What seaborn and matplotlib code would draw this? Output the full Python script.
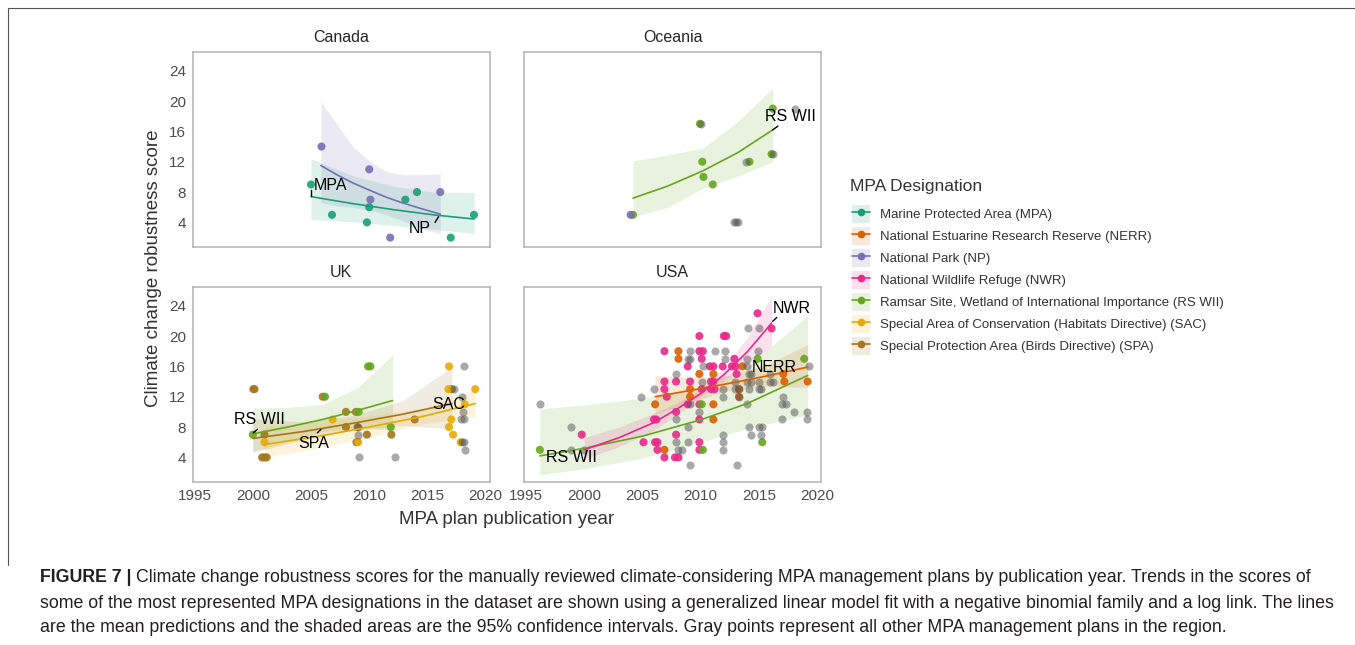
import numpy as np
import pandas as pd
import seaborn as sns
import matplotlib.pyplot as plt
from matplotlib.lines import Line2D
from matplotlib.patches import Patch

# ---- designations / colours ----
designations = ['MPA', 'NERR', 'NP', 'NWR', 'RS WII', 'SAC', 'SPA']
legend_labels = [
    'Marine Protected Area (MPA)',
    'National Estuarine Research Reserve (NERR)',
    'National Park (NP)',
    'National Wildlife Refuge (NWR)',
    'Ramsar Site, Wetland of International Importance (RS WII)',
    'Special Area of Conservation (Habitats Directive) (SAC)',
    'Special Protection Area (Birds Directive) (SPA)',
]
palette = {'MPA': '#1B9E77', 'NERR': '#D95F02', 'NP': '#7570B3', 'NWR': '#E7298A',
           'RS WII': '#66A61E', 'SAC': '#E6AB02', 'SPA': '#A6761D'}
GRAY = '#555555'

# ---- Canada ----
canada_year = [2005.0, 2006.8, 2009.8, 2010.0, 2013.1, 2014.1, 2017.0, 2019.0,
               2005.9, 2010.0, 2010.1, 2011.8, 2016.1]
canada_score = [9, 5, 4, 6, 7, 8, 2, 5,
                14, 11, 7, 2, 8]
canada_group = ['MPA'] * 8 + ['NP'] * 5

# ---- Oceania ----
oceania_year = [2004.2, 2009.95, 2010.15, 2010.25, 2011.05, 2014.2, 2016.2, 2016.1,
                2004.0,
                2010.0, 2013.9, 2018.1, 2016.2, 2012.85, 2013.05, 2013.25]
oceania_score = [5, 17, 12, 10, 9, 12, 19, 13,
                 5,
                 17, 12, 19, 13, 4, 4, 4]
oceania_group = ['RS WII'] * 8 + ['NP'] + ['Other'] * 7

# ---- UK ----
uk_year = [2000.05, 2000.15, 2000.8, 2001.0, 2001.2, 2001.0, 2006.0, 2008.0, 2008.0,
           2008.85, 2009.0, 2008.9, 2009.8, 2011.9, 2013.9, 2017.1,
           2001.0, 2006.85, 2009.05, 2016.85, 2016.8, 2016.85, 2017.05, 2017.2, 2017.85,
           2018.2, 2019.1,
           2000.0, 2006.2, 2009.1, 2009.9, 2010.1, 2011.85,
           2009.0, 2009.0, 2009.1, 2012.2, 2017.3, 2018.1, 2018.0, 2018.05, 2017.9,
           2018.1, 2018.0, 2018.1, 2018.2]
uk_score = [13, 13, 4, 4, 4, 7, 12, 10, 8,
            10, 8, 6, 7, 7, 9, 13,
            6, 9, 6, 16, 13, 8, 9, 7, 6,
            11, 13,
            7, 12, 10, 16, 16, 8,
            8, 7, 4, 4, 13, 16, 12, 10, 9,
            9, 6, 6, 5]
uk_group = ['SPA'] * 16 + ['SAC'] * 11 + ['RS WII'] * 6 + ['Other'] * 13

# ---- USA ----
usa_nwr_year = [1999.8, 2005.1, 2006.9, 2006.9, 2006.9, 2007.1, 2007.9, 2006.0, 2006.2,
                2007.9, 2007.9, 2006.1, 2006.3, 2006.3, 2006.9, 2007.8, 2008.1,
                2014.9, 2016.1, 2009.9, 2012.0, 2012.2, 2009.9, 2010.2, 2010.1, 2012.9,
                2008.9, 2010.8, 2011.1, 2011.9, 2012.7, 2013.0, 2013.1, 2009.1, 2010.9,
                2011.1, 2010.1, 2010.9, 2011.2, 2008.9, 2009.9, 2009.9, 2009.9, 2009.9]
usa_nwr_score = [7, 6, 18, 14, 13, 12, 14, 9, 9,
                 10, 7, 6, 6, 5, 4, 4, 4,
                 23, 21, 20, 20, 20, 18, 18, 17, 17,
                 16, 16, 16, 16, 16, 16, 15, 14, 14,
                 14, 13, 13, 13, 11, 11, 9, 6, 5]
usa_nerr_year = [2006.1, 2008.1, 2008.1, 2006.9, 2009.9, 2011.1, 2017.1, 2017.2, 2019.2,
                 2009.1, 2009.1, 2013.3, 2011.1, 2011.1, 2013.6, 2013.3]
usa_nerr_score = [11, 18, 17, 5, 15, 15, 15, 14, 14,
                  13, 12, 12, 11, 9, 16, 13]
usa_rs_year = [1996.2, 2010.1, 2010.2, 2015.3, 2014.9, 2018.9]
usa_rs_score = [5, 11, 5, 6, 17, 17]
usa_other_year = [1996.2, 1998.9, 1998.9, 2000.0, 2004.9, 2006.0, 2007.9, 2007.9, 2007.9,
                  2008.1, 2014.1, 2015.0, 2009.1, 2011.2, 2012.1, 2014.9, 2008.9, 2009.1,
                  2012.1, 2014.0, 2010.2, 2014.0, 2019.3, 2014.2, 2014.3, 2016.0, 2010.1,
                  2013.0, 2014.0, 2014.3, 2015.0, 2016.0, 2016.2, 2011.9, 2013.0, 2013.3,
                  2014.2, 2015.0, 2015.2, 2011.9, 2013.3, 2017.1, 2009.1, 2014.0, 2017.0,
                  2017.3, 2009.9, 2018.0, 2019.1, 2017.0, 2019.1, 2008.9, 2014.2, 2015.0,
                  2015.3, 2011.9, 2014.3, 2015.2, 2008.9, 2011.9, 2008.4, 2011.9, 2009.1,
                  2013.1]
usa_other_score = [11, 8, 5, 5, 12, 13, 15, 9, 6,
                   5, 21, 21, 18, 18, 18, 18, 17, 17,
                   17, 17, 16, 16, 16, 15, 15, 15, 14,
                   14, 14, 14, 14, 14, 14, 13, 13, 13,
                   13, 13, 13, 12, 12, 12, 11, 11, 11,
                   11, 10, 10, 10, 9, 9, 8, 8, 8,
                   8, 7, 7, 7, 6, 6, 5, 5, 3,
                   3]

# ---- model fits: (year, mean, lower 95%, upper 95%) ----
fit_canada_mpa = ([2005.0, 2008.5, 2012.0, 2015.5, 2019.0],
                  [7.4, 6.5, 5.7, 5.0, 4.45],
                  [4.4, 4.1, 3.6, 3.1, 2.55],
                  [12.4, 10.2, 8.8, 8.0, 7.95])
fit_canada_np = ([2005.85, 2007.2, 2008.6, 2010.1, 2011.5, 2012.9, 2014.5, 2016.1],
                 [11.5, 10.3, 9.2, 8.2, 7.3, 6.55, 5.8, 5.1],
                 [6.6, 6.2, 6.0, 5.6, 5.0, 4.2, 3.2, 2.5],
                 [19.9, 17.0, 14.0, 12.0, 10.7, 10.3, 10.3, 10.4])
fit_oceania_rs = ([2004.2, 2007.2, 2010.2, 2013.2, 2016.2],
                  [7.2, 8.8, 10.8, 13.2, 16.2],
                  [4.75, 6.0, 8.5, 10.1, 12.0],
                  [12.1, 12.9, 13.8, 17.3, 21.7])
fit_uk_rs = ([2000.0, 2003.0, 2006.0, 2009.0, 2012.0],
             [7.1, 8.0, 9.0, 10.2, 11.5],
             [4.8, 6.05, 7.4, 7.9, 7.6],
             [10.5, 10.6, 11.0, 13.2, 17.5])
fit_uk_spa = ([2000.0, 2004.3, 2008.6, 2012.9, 2017.1],
              [6.5, 7.4, 8.5, 9.7, 11.1],
              [4.65, 6.3, 7.6, 8.2, 7.75],
              [9.1, 8.7, 9.5, 11.5, 15.9])
fit_uk_sac = ([2001.0, 2005.5, 2010.0, 2014.6, 2019.1],
              [5.7, 6.75, 8.0, 9.4, 11.1],
              [4.0, 5.25, 6.7, 8.45, 9.45],
              [8.1, 8.7, 9.45, 10.5, 13.05])
fit_usa_nwr = ([2000.0, 2003.0, 2006.0, 2008.0, 2010.0, 2012.0, 2014.0, 2016.1],
               [5.0, 6.6, 8.6, 10.4, 12.4, 14.9, 17.9, 21.7],
               [3.8, 5.4, 7.6, 9.6, 11.95, 14.1, 16.2, 18.6],
               [6.6, 8.0, 9.8, 11.2, 12.95, 15.8, 19.8, 25.3])
fit_usa_nerr = ([2006.1, 2009.4, 2012.6, 2015.9, 2019.2],
                [12.0, 12.9, 13.8, 14.8, 15.9],
                [9.7, 11.4, 12.9, 13.4, 13.2],
                [14.8, 14.5, 14.8, 16.4, 18.9])
fit_usa_rs = ([1996.2, 2000.0, 2005.0, 2010.0, 2014.0, 2019.2],
              [4.2, 5.2, 6.8, 8.95, 11.1, 14.8],
              [1.7, 2.5, 3.9, 6.0, 7.8, 9.6],
              [10.4, 10.9, 11.8, 13.35, 15.9, 22.7])

caption = [
    ('FIGURE 7 |', 'Climate change robustness scores for the manually reviewed climate-considering MPA '
                   'management plans by publication year. Trends in the scores of'),
    ('', 'some of the most represented MPA designations in the dataset are shown using a generalized '
         'linear model fit with a negative binomial family and a log link. The lines'),
    ('', 'are the mean predictions and the shaded areas are the 95% confidence intervals. '
         'Gray points represent all other MPA management plans in the region.'),
]

# ---- style ----
sns.set_style('white')
plt.rcParams['font.family'] = ['Liberation Sans', 'DejaVu Sans']

W, H = 1355, 645
fig = plt.figure(figsize=(W / 100, H / 100), dpi=100)
fig.patch.set_facecolor('white')


def px_axes(x0, y0, x1, y1):
    return fig.add_axes([x0 / W, 1 - y1 / H, (x1 - x0) / W, (y1 - y0) / H])


axes = {
    'Canada': px_axes(192.7, 51.7, 490, 246.7),
    'Oceania': px_axes(524, 51.7, 821.3, 246.7),
    'UK': px_axes(192.7, 286.7, 490, 481.7),
    'USA': px_axes(524, 286.7, 821.3, 481.7),
}

frames = {
    'Canada': pd.DataFrame({'year': canada_year, 'score': canada_score, 'group': canada_group}),
    'Oceania': pd.DataFrame({'year': oceania_year, 'score': oceania_score, 'group': oceania_group}),
    'UK': pd.DataFrame({'year': uk_year, 'score': uk_score, 'group': uk_group}),
    'USA': pd.concat([
        pd.DataFrame({'year': usa_nwr_year, 'score': usa_nwr_score, 'group': 'NWR'}),
        pd.DataFrame({'year': usa_nerr_year, 'score': usa_nerr_score, 'group': 'NERR'}),
        pd.DataFrame({'year': usa_rs_year, 'score': usa_rs_score, 'group': 'RS WII'}),
        pd.DataFrame({'year': usa_other_year, 'score': usa_other_score, 'group': 'Other'}),
    ], ignore_index=True),
}

fits = {
    'Canada': [('MPA', fit_canada_mpa), ('NP', fit_canada_np)],
    'Oceania': [('RS WII', fit_oceania_rs)],
    'UK': [('RS WII', fit_uk_rs), ('SPA', fit_uk_spa), ('SAC', fit_uk_sac)],
    'USA': [('RS WII', fit_usa_rs), ('NERR', fit_usa_nerr), ('NWR', fit_usa_nwr)],
}

# label text position, leader start, leader end (data units)
labels = {
    'Canada': [('MPA', (2005.2, 8.9), (2005.0, 7.5), (2005.0, 8.3), 'left'),
               ('NP', (2014.35, 3.2), (2015.65, 4.0), (2015.95, 4.75), 'center')],
    'Oceania': [('RS WII', (2017.7, 17.9), (2016.2, 16.2), (2016.65, 16.7), 'center')],
    'UK': [('RS WII', (2000.55, 9.0), (2000.05, 7.25), (2000.4, 7.7), 'center'),
           ('SPA', (2005.2, 5.9), (2005.55, 7.25), (2005.85, 7.7), 'center'),
           ('SAC', (2016.8, 11.0), None, None, 'center')],
    'USA': [('NWR', (2017.8, 23.65), (2016.2, 21.95), (2016.55, 22.45), 'center'),
            ('NERR', (2016.3, 15.8), None, None, 'center'),
            ('RS WII', (1998.95, 4.0), None, None, 'center')],
}

for name, ax in axes.items():
    df = frames[name]
    for grp, (fx, fm, flo, fhi) in fits[name]:
        ax.fill_between(fx, flo, fhi, color=palette[grp], alpha=0.14, linewidth=0, zorder=1)
    coloured = df[df['group'] != 'Other']
    sns.scatterplot(data=coloured, x='year', y='score', hue='group', palette=palette,
                    s=34, alpha=0.9, linewidth=0, legend=False, ax=ax, zorder=2)
    others = df[df['group'] == 'Other']
    if len(others):
        sns.scatterplot(data=others, x='year', y='score', color=GRAY, s=34, alpha=0.5,
                        linewidth=0, legend=False, ax=ax, zorder=3)
    for grp, (fx, fm, flo, fhi) in fits[name]:
        sns.lineplot(x=fx, y=fm, color=palette[grp], linewidth=1.2, ax=ax, zorder=4)
    for text, pos, l0, l1, ha in labels[name]:
        ax.text(pos[0], pos[1], text, ha=ha, va='center', fontsize=11.5, color='black', zorder=6)
        if l0 is not None:
            ax.plot([l0[0], l1[0]], [l0[1], l1[1]], color='black', linewidth=1.0, zorder=6)

    ax.set_xlim(1994.84, 2020.37)
    ax.set_ylim(0.8, 26.5)
    ax.set_xlabel('')
    ax.set_ylabel('')
    ax.set_title(name, fontsize=11.5, color='#262626', pad=7)
    for sp in ax.spines.values():
        sp.set_visible(True)
        sp.set_color('#b3b3b3')
        sp.set_linewidth(1.1)
    ax.grid(False)
    ax.set_xticks([1995, 2000, 2005, 2010, 2015, 2020])
    ax.set_yticks([4, 8, 12, 16, 20, 24])
    ax.tick_params(axis='both', length=3, width=0.8, color='#b3b3b3',
                   labelcolor='#4d4d4d', labelsize=11, pad=2)
    if name in ('Oceania', 'USA'):
        ax.tick_params(axis='y', left=False, labelleft=False)
    if name in ('Canada', 'Oceania'):
        ax.tick_params(axis='x', bottom=False, labelbottom=False)

fig.text(153 / W, 1 - 268 / H, 'Climate change robustness score', rotation=90,
         ha='center', va='center', fontsize=13.5, color='#333333')
fig.text(507 / W, 1 - 519 / H, 'MPA plan publication year', ha='center', va='center',
         fontsize=13.5, color='#333333')

# ---- legend ----
fig.text(850 / W, 1 - 187 / H, 'MPA Designation', ha='left', va='center',
         fontsize=12.5, color='#333333')
handles = [(Patch(facecolor=palette[d], alpha=0.15, edgecolor='none'),
            Line2D([], [], color=palette[d], linewidth=1.2, marker='o', markersize=5.5,
                   markeredgewidth=0)) for d in designations]
fig.legend(handles, legend_labels, loc='upper left', bbox_to_anchor=(852 / W, 1 - 205 / H),
           frameon=False, fontsize=9.5, handlelength=1.37, handleheight=1.73,
           handletextpad=0.75, labelspacing=0.3, borderpad=0, borderaxespad=0,
           labelcolor='#333333')

# ---- frame (top and left edges) and caption ----
fig.add_artist(Line2D([8 / W, 8 / W, 1.0], [1 - 565 / H, 1 - 8 / H, 1 - 8 / H],
                      transform=fig.transFigure, color='#555555', linewidth=0.8))
renderer = fig.canvas.get_renderer()
line_y = [578, 603, 628]
for (bold, rest), yy in zip(caption, line_y):
    x0 = 40 / W
    if bold:
        t = fig.text(x0, 1 - yy / H, bold, fontweight='bold', fontsize=12.8,
                     ha='left', va='center', color='#231f20')
        bb = t.get_window_extent(renderer=renderer)
        x0 = (bb.x1 + 5) / W
    fig.text(x0, 1 - yy / H, rest, fontsize=12.8, ha='left', va='center', color='#231f20')

fig.savefig('out.png', dpi=100, facecolor='white')
